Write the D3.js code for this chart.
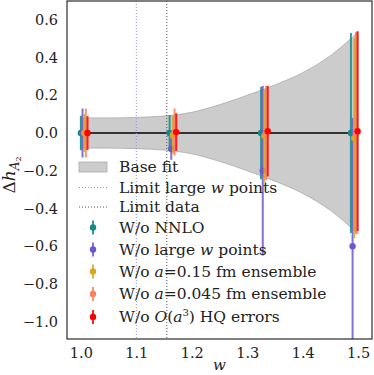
<!DOCTYPE html>
<html>
<head>
<meta charset="utf-8">
<script src="https://cdn.jsdelivr.net/npm/d3@7"></script>
<style>
  body { margin: 0; background: #fff; }
  text { font-family: "DejaVu Serif", serif; fill: #222; }
</style>
</head>
<body>
<div id="chart-area"></div>
<script>
// lattice w values (first series position), offset per series
const wGroups = [1.0, 1.16, 1.325, 1.487];
const seriesShift = 0.003;

const seriesNames = ["W/o NNLO", "W/o large w points", "W/o a=0.15 fm ensemble", "W/o a=0.045 fm ensemble", "W/o O(a3) HQ errors"];
const seriesColors = ["#138a8a", "#6a5acd", "#daa520", "#fa8060", "#ff0000"];

const nnloVal = [0, 0, 0, 0];
const nnloErr = [0.092, 0.095, 0.245, 0.53];
const largeWVal = [0, -0.085, -0.2, -0.6];
const largeWErr = [0.13, 0.057, 0.45, 0.68];
const a015Val = [0, -0.01, -0.015, -0.027];
const a015Err = [0.1, 0.1, 0.245, 0.53];
const a0045Val = [0, 0.005, 0, 0];
const a0045Err = [0.13, 0.125, 0.25, 0.535];
const hqVal = [0, 0.005, 0.01, 0.01];
const hqErr = [0.09, 0.1, 0.24, 0.53];

const seriesVals = [nnloVal, largeWVal, a015Val, a0045Val, hqVal];
const seriesErrs = [nnloErr, largeWErr, a015Err, a0045Err, hqErr];

// base fit band (central 0, half width)
const bandW = [1.0, 1.05, 1.1, 1.15, 1.2, 1.25, 1.3, 1.35, 1.4, 1.45, 1.5];
const bandErr = [0.08, 0.08, 0.083, 0.09, 0.11, 0.15, 0.2, 0.255, 0.32, 0.41, 0.535];

const limitLargeW = 1.1;
const limitData = 1.155;

const xTicks = [1.0, 1.1, 1.2, 1.3, 1.4, 1.5];
const yTicks = [0.6, 0.4, 0.2, 0.0, -0.2, -0.4, -0.6, -0.8, -1.0];

const chartSize = { width: 374, height: 375 };
const margin = { left: 67, right: 2, top: 1, bottom: 36 };
const width = chartSize.width - margin.left - margin.right;
const height = chartSize.height - margin.top - margin.bottom;

const fmt = d => d3.format(".1f")(d).replace("-", "\u2212");

const svg = d3.select("#chart-area").append("svg")
  .attr("width", chartSize.width)
  .attr("height", chartSize.height);

const g = svg.append("g").attr("transform", `translate(${margin.left},${margin.top})`);

const x = d3.scaleLinear().domain([0.975, 1.525]).range([0, width]);
const y = d3.scaleLinear().domain([-1.092, 0.70]).range([height, 0]);

svg.append("defs").append("clipPath").attr("id", "clip")
  .append("rect").attr("width", width).attr("height", height);

const plot = g.append("g").attr("clip-path", "url(#clip)");

// band
const bandData = bandW.map((w, i) => ({ w, e: bandErr[i] }));
plot.append("path")
  .datum(bandData)
  .attr("fill", "#cccccc")
  .attr("stroke", "#aaaaaa")
  .attr("stroke-width", 0.8)
  .attr("d", d3.area().curve(d3.curveMonotoneX)
    .x(d => x(d.w)).y0(d => y(-d.e)).y1(d => y(d.e)));

plot.append("line")
  .attr("x1", x(bandW[0])).attr("x2", x(bandW[bandW.length - 1]))
  .attr("y1", y(0)).attr("y2", y(0))
  .attr("stroke", "#000").attr("stroke-width", 1.5);

plot.append("line")
  .attr("x1", x(limitLargeW)).attr("x2", x(limitLargeW))
  .attr("y1", 0).attr("y2", height)
  .attr("stroke", "#8c8cf0").attr("stroke-width", 1).attr("stroke-dasharray", "1,2");

plot.append("line")
  .attr("x1", x(limitData)).attr("x2", x(limitData))
  .attr("y1", 0).attr("y2", height)
  .attr("stroke", "#555").attr("stroke-width", 1).attr("stroke-dasharray", "1,2");

// error bars
seriesNames.forEach((name, s) => {
  const pts = wGroups.map((w, i) => ({ w: w + s * seriesShift, v: seriesVals[s][i], e: seriesErrs[s][i] }));
  const sg = plot.append("g");
  sg.selectAll("line").data(pts).enter().append("line")
    .attr("x1", d => x(d.w)).attr("x2", d => x(d.w))
    .attr("y1", d => y(d.v - d.e)).attr("y2", d => y(d.v + d.e))
    .attr("stroke", seriesColors[s]).attr("stroke-width", 2).attr("opacity", 0.85);
  sg.selectAll("circle").data(pts).enter().append("circle")
    .attr("cx", d => x(d.w)).attr("cy", d => y(d.v)).attr("r", 3.2)
    .attr("fill", seriesColors[s]);
});

// frame
g.append("rect").attr("width", width).attr("height", height)
  .attr("fill", "none").attr("stroke", "#333").attr("stroke-width", 1.25);

// axes (labels only)
const xAxis = d3.axisBottom(x).tickValues(xTicks).tickFormat(fmt).tickSize(0).tickPadding(9);
g.append("g").attr("class", "x axis").attr("transform", `translate(0,${height})`).call(xAxis)
  .call(a => a.select(".domain").remove())
  .selectAll("text").style("font-family", "DejaVu Serif").style("font-size", "14.5px").attr("fill", "#222");

const yAxis = d3.axisLeft(y).tickValues(yTicks).tickFormat(fmt).tickSize(0).tickPadding(9);
g.append("g").attr("class", "y axis").call(yAxis)
  .call(a => a.select(".domain").remove())
  .selectAll("text").style("font-family", "DejaVu Serif").style("font-size", "14.5px").attr("fill", "#222");

// axis titles
svg.append("text").attr("x", margin.left + x(1.25)).attr("y", 370)
  .attr("text-anchor", "middle").style("font-size", "15px").style("font-style", "italic").text("w");

const yl = svg.append("text").attr("transform", "translate(15,175) rotate(-90)")
  .attr("text-anchor", "middle").style("font-size", "17px");
yl.append("tspan").text("\u0394");
yl.append("tspan").style("font-style", "italic").text("h");
yl.append("tspan").attr("dy", 4).style("font-size", "12px").style("font-style", "italic").text("A");
yl.append("tspan").attr("dy", 2).style("font-size", "8px").text("2");

// legend
const legX = 79, legTextX = 119;
const legRows = [167, 187.5, 207, 227.5, 249.5, 271.5, 294, 317];
const lg = svg.append("g");
lg.append("rect").attr("x", legX).attr("y", legRows[0] - 5).attr("width", 28).attr("height", 10)
  .attr("fill", "#cccccc").attr("stroke", "#aaaaaa").attr("stroke-width", 0.8);
lg.append("line").attr("x1", legX).attr("x2", legX + 28).attr("y1", legRows[1]).attr("y2", legRows[1])
  .attr("stroke", "#8c8cf0").attr("stroke-dasharray", "1,2");
lg.append("line").attr("x1", legX).attr("x2", legX + 28).attr("y1", legRows[2]).attr("y2", legRows[2])
  .attr("stroke", "#555").attr("stroke-dasharray", "1,2");
seriesNames.forEach((n, s) => {
  const yy = legRows[s + 3];
  lg.append("line").attr("x1", legX + 14).attr("x2", legX + 14).attr("y1", yy - 7).attr("y2", yy + 7)
    .attr("stroke", seriesColors[s]).attr("stroke-width", 2).attr("opacity", 0.85);
  lg.append("circle").attr("cx", legX + 14).attr("cy", yy).attr("r", 3.2).attr("fill", seriesColors[s]);
});

const legText = (row, parts) => {
  const t = lg.append("text").attr("x", legTextX).attr("y", legRows[row]).attr("dy", "0.35em")
    .style("font-size", "15.5px");
  parts.forEach(p => {
    const sp = t.append("tspan").text(p.t);
    if (p.i) sp.style("font-style", "italic");
    if (p.sup) sp.attr("dy", -6).style("font-size", "10px");
    if (p.down) sp.attr("dy", 6);
  });
};
legText(0, [{ t: "Base fit" }]);
legText(1, [{ t: "Limit large " }, { t: "w", i: true }, { t: " points" }]);
legText(2, [{ t: "Limit data" }]);
legText(3, [{ t: "W/o NNLO" }]);
legText(4, [{ t: "W/o large " }, { t: "w", i: true }, { t: " points" }]);
legText(5, [{ t: "W/o " }, { t: "a", i: true }, { t: "=0.15 fm ensemble" }]);
legText(6, [{ t: "W/o " }, { t: "a", i: true }, { t: "=0.045 fm ensemble" }]);
legText(7, [{ t: "W/o " }, { t: "O", i: true }, { t: "(" }, { t: "a", i: true }, { t: "3", sup: true }, { t: ")", down: true }, { t: " HQ errors" }]);
</script>
</body>
</html>
